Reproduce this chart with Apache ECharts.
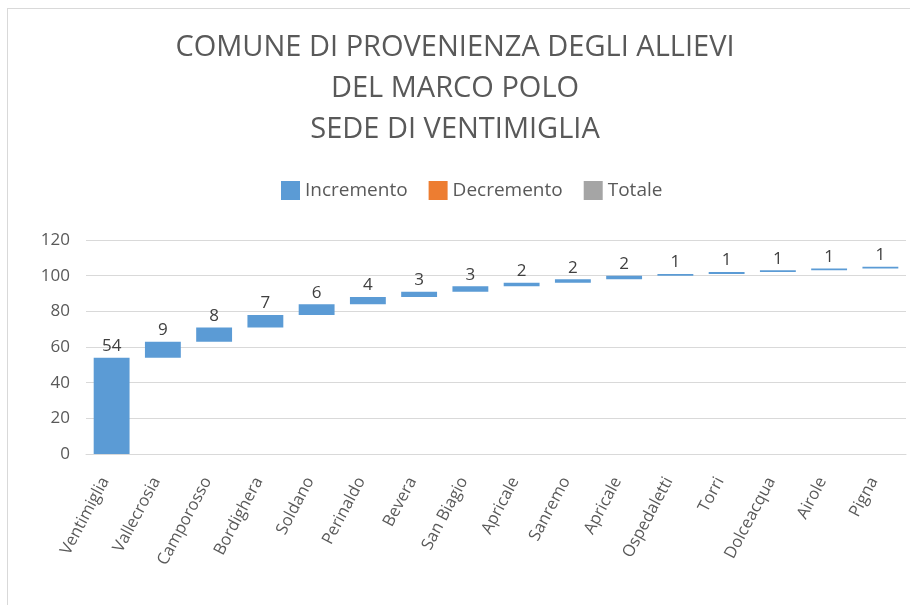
<!DOCTYPE html>
<html>
<head>
<meta charset="utf-8">
<script src="https://cdn.jsdelivr.net/npm/echarts@6/dist/echarts.min.js"></script>
<style>
  html, body { margin: 0; padding: 0; background: #fff; }
  #chart { width: 910px; height: 605px; }
  #frame { position: absolute; left: 7px; top: 8px; width: 920px; height: 620px;
    border: 1px solid #d9d9d9; pointer-events: none; }
</style>
</head>
<body>
<div id="chart"></div>
<div id="frame"></div>
<script>
const comuni = ['Ventimiglia', 'Vallecrosia', 'Camporosso', 'Bordighera', 'Soldano', 'Perinaldo',
  'Bevera', 'San Biagio', 'Apricale', 'Sanremo', 'Apricale', 'Ospedaletti', 'Torri',
  'Dolceacqua', 'Airole', 'Pigna'];
const incremento = [54, 9, 8, 7, 6, 4, 3, 3, 2, 2, 2, 1, 1, 1, 1, 1];
const yTicks = [0, 20, 40, 60, 80, 100, 120];

// base invisibile per il waterfall: somma dei valori precedenti
const base = [];
let acc = 0;
incremento.forEach(v => { base.push(acc); acc += v; });

const font = '"Open Sans", "Liberation Sans", sans-serif';
const chart = echarts.init(document.getElementById('chart'));

chart.setOption({
  animation: false,
  color: ['#5b9bd5', '#ed7d31', '#a5a5a5'],
  title: {
    text: 'COMUNE DI PROVENIENZA DEGLI ALLIEVI\nDEL MARCO POLO\nSEDE DI VENTIMIGLIA',
    left: 'center',
    top: 22,
    textStyle: { fontFamily: font, fontSize: 29, fontWeight: 'normal', color: '#595959', lineHeight: 41 }
  },
  legend: {
    top: 176,
    left: 276,
    itemWidth: 19,
    itemHeight: 19,
    itemGap: 21,
    icon: 'rect',
    data: ['Incremento', 'Decremento', 'Totale'],
    textStyle: { fontFamily: font, fontSize: 19, color: '#595959' }
  },
  grid: { left: 86, right: 4, top: 240, bottom: 151 },
  xAxis: {
    type: 'category',
    data: comuni,
    axisTick: { show: false },
    axisLine: { lineStyle: { color: '#d9d9d9' } },
    axisLabel: {
      rotate: 62, interval: 0, margin: 12, padding: [0, 14, 0, 0],
      fontFamily: font, fontSize: 16.5, color: '#595959'
    }
  },
  yAxis: {
    type: 'value',
    min: yTicks[0],
    max: yTicks[yTicks.length - 1],
    interval: 20,
    axisLine: { show: false },
    axisTick: { show: false },
    splitLine: { lineStyle: { color: '#d9d9d9' } },
    axisLabel: { margin: 16, fontFamily: font, fontSize: 17, color: '#595959' }
  },
  series: [
    {
      name: 'base',
      type: 'bar',
      stack: 'w',
      data: base,
      itemStyle: { color: 'transparent' },
      barCategoryGap: '30%',
      silent: true
    },
    {
      name: 'Incremento',
      type: 'bar',
      stack: 'w',
      data: incremento,
      label: { show: true, position: 'top', distance: 3, fontFamily: font, fontSize: 17, color: '#404040' }
    },
    { name: 'Decremento', type: 'bar', stack: 'w', data: [] },
    { name: 'Totale', type: 'bar', stack: 'w', data: [] }
  ]
});
</script>
</body>
</html>
